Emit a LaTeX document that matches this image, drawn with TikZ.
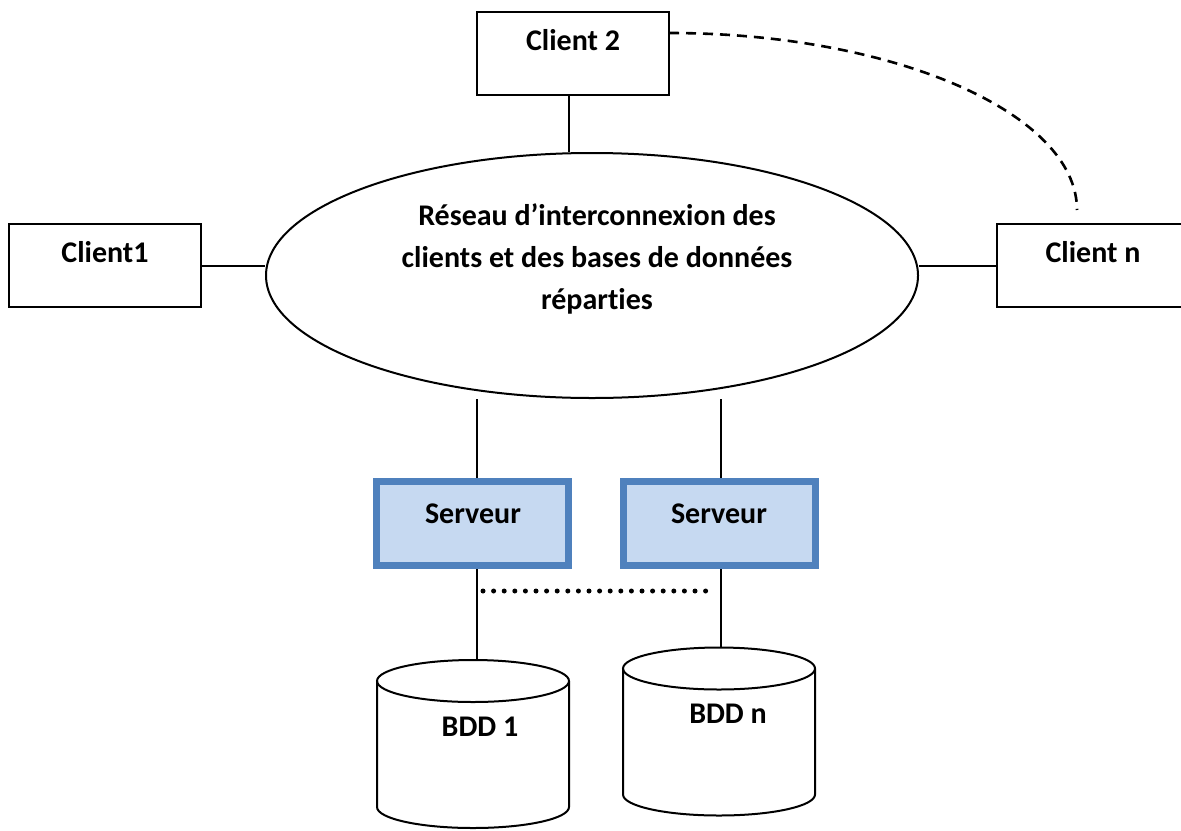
\documentclass[tikz,border=0pt]{standalone}
\usepackage{fontspec}
\setmainfont{Carlito}[Ligatures=NoCommon]
\usetikzlibrary{shapes.geometric}
\definecolor{srvfill}{RGB}{198,217,241}
\definecolor{srvborder}{RGB}{79,129,189}
\begin{document}
\begin{tikzpicture}[x=0.5pt,y=-0.5pt,
  txt/.style={font=\fontsize{15}{21}\selectfont\bfseries, inner sep=0pt},
  clientbox/.style={draw, line width=1pt, minimum width=96pt, minimum height=41.5pt, inner sep=0pt},
  srvbox/.style={draw=srvborder, fill=srvfill, line width=3.5pt, minimum width=96pt, minimum height=42pt, inner sep=0pt},
  netshape/.style={draw, ellipse, line width=1pt, minimum width=326pt, minimum height=122.5pt, inner sep=0pt},
  link/.style={line width=1pt},
  optlink/.style={line width=1.3pt, dash pattern=on 5pt off 3.5pt},
  dotlink/.style={line width=2.5pt, line cap=round, dash pattern=on 0pt off 5.3pt},
  dbcyl/.pic={
    \draw[line width=1pt] (-96,-63) -- (-96,63)
      arc[start angle=180, end angle=0, x radius=96, y radius=21] -- (96,-63);
    \draw[line width=1pt] (0,-63) ellipse [x radius=96, y radius=21];
  }]
\useasboundingbox (0,0) rectangle (1181,830);

% network
\node[netshape] (net) at (592,275.5) {};
\node[txt, align=center] (nettext) at (597,259)
  {Réseau d’interconnexion des\\clients et des bases de données\\réparties};

% clients
\node[clientbox] (c1) at (104.5,265.5) {};
\node[clientbox] (c2) at (573,53) {};
\node[clientbox] (cn) at (1093,265.5) {};
\node[txt, anchor=base] (c1t) at (105,262) {Client1};
\node[txt, anchor=base] (c2t) at (573,50) {Client 2};
\node[txt, anchor=base] (cnt) at (1093,262) {Client n};

% servers
\node[srvbox] (s1) at (472.5,523.5) {};
\node[srvbox] (s2) at (719.5,523.5) {};
\node[txt, anchor=base] (s1t) at (473,523) {Serveur};
\node[txt, anchor=base] (s2t) at (719,523) {Serveur};

% databases
\pic at (473,744) {dbcyl};
\pic at (719,731.5) {dbcyl};
\coordinate (db1top) at (473,660);
\coordinate (dbntop) at (719,648);
\node[txt, anchor=base] (db1t) at (480,736) {BDD 1};
\node[txt, anchor=base] (dbnt) at (728,723) {BDD n};

% connectors
\draw[link] (c1.east) -- (c1.east -| net.west);
\draw[link] (cn.west) -- (cn.west -| net.east);
\draw[link] ([xshift=-2pt]c2.south) -- ([xshift=-2pt]c2.south |- net.north);
\draw[link] ([xshift=2pt]s1.north |- net.south) -- ([xshift=2pt]s1.north);
\draw[link] ([xshift=0.75pt]s2.north |- net.south) -- ([xshift=0.75pt]s2.north);
\draw[link] ([xshift=2pt]s1.south) -- ([xshift=2pt]s1.south |- db1top);
\draw[link] ([xshift=0.75pt]s2.south) -- ([xshift=0.75pt]s2.south |- dbntop);

% optional link between client 2 and client n
\coordinate (c2out) at (669,33);
\coordinate (cnin) at (1077,210);
\draw[optlink] (c2out) .. controls (893,33) and (1077,113) .. (cnin);

% further servers
\coordinate (dotL) at (483,591);
\coordinate (dotR) at (716,591);
\draw[dotlink] (dotL) -- (dotR);
\end{tikzpicture}
\end{document}
